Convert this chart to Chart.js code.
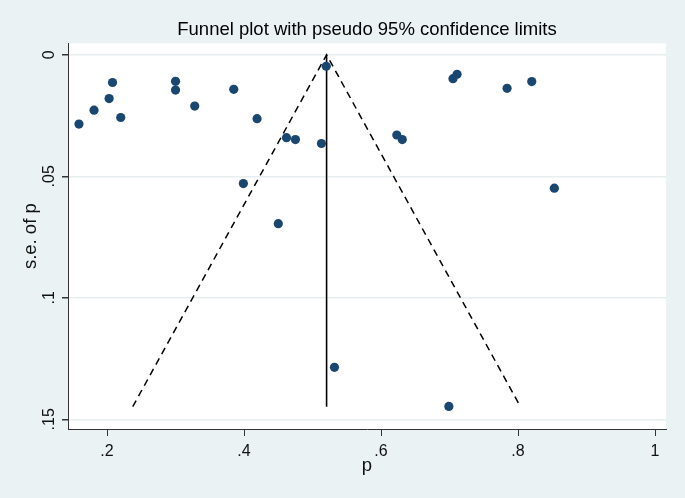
<!DOCTYPE html>
<html>
<head>
<meta charset="utf-8">
<script src="https://cdn.jsdelivr.net/npm/chart.js@4"></script>
<style>
  body { margin: 0; background: #eaf2f3; }
  canvas { display: block; }
</style>
</head>
<body>
<canvas id="funnelChart" width="685" height="498"></canvas>
<script>
// study estimates
const pValues = [0.159, 0.181, 0.203, 0.208, 0.220, 0.300, 0.300, 0.328, 0.385, 0.419,
                 0.462, 0.475, 0.513, 0.520, 0.399, 0.450, 0.705, 0.711, 0.784, 0.820,
                 0.623, 0.631, 0.853, 0.532, 0.699];
const seValues = [0.0285, 0.0228, 0.0180, 0.0114, 0.0258, 0.0109, 0.0145, 0.0211, 0.0142, 0.0263,
                  0.0341, 0.0349, 0.0365, 0.0047, 0.0530, 0.0695, 0.0098, 0.0080, 0.0138, 0.0110,
                  0.0330, 0.0349, 0.0549, 0.1286, 0.1447];

// pooled estimate and pseudo 95% limits
const pooledLineP = [0.5205, 0.5205];
const pooledLineSe = [0, 0.1448];
const limitP = [0.2375, 0.5205, 0.8035];
const limitSe = [0.1448, 0, 0.1448];

const xTickValues = [0.2, 0.4, 0.6, 0.8, 1];
const xTickLabels = ['.2', '.4', '.6', '.8', '1'];
const yTickValues = [0, 0.05, 0.1, 0.15];
const yTickLabels = ['0', '.05', '.1', '.15'];

const toPoints = (xs, ys) => xs.map((x, i) => ({ x: x, y: ys[i] }));

Chart.defaults.font.family = "'Liberation Sans', Arial, sans-serif";
Chart.defaults.color = '#111';

// white plot region + rotated y tick labels (Stata style)
const stataLook = {
  id: 'stataLook',
  beforeDraw(chart) {
    const a = chart.chartArea;
    const ctx = chart.ctx;
    ctx.save();
    ctx.fillStyle = '#ffffff';
    ctx.fillRect(a.left, a.top, a.right - a.left, a.bottom - a.top);
    ctx.restore();
  },
  afterDraw(chart) {
    const y = chart.scales.y;
    const ctx = chart.ctx;
    ctx.save();
    ctx.font = "16px 'Liberation Sans', Arial, sans-serif";
    ctx.fillStyle = '#111';
    ctx.textAlign = 'center';
    ctx.textBaseline = 'alphabetic';
    yTickValues.forEach((v, i) => {
      ctx.save();
      ctx.translate(53.5, y.getPixelForValue(v));
      ctx.rotate(-Math.PI / 2);
      ctx.fillText(yTickLabels[i], 0, 0);
      ctx.restore();
    });
    ctx.restore();
  }
};

const ctx = document.getElementById('funnelChart');
new Chart(ctx, {
  type: 'scatter',
  data: {
    datasets: [
      {
        label: 'studies',
        data: toPoints(pValues, seValues),
        backgroundColor: '#1a476f',
        borderColor: '#1a476f',
        borderWidth: 0,
        pointRadius: 4.6,
        order: 0
      },
      {
        label: 'pooled',
        type: 'line',
        data: toPoints(pooledLineP, pooledLineSe),
        borderColor: '#000',
        borderWidth: 1.6,
        pointRadius: 0,
        fill: false,
        order: 1
      },
      {
        label: 'limits',
        type: 'line',
        data: toPoints(limitP, limitSe),
        borderColor: '#000',
        borderWidth: 1.5,
        borderDash: [7, 5],
        pointRadius: 0,
        fill: false,
        order: 2
      }
    ]
  },
  options: {
    responsive: false,
    animation: false,
    layout: { padding: { left: 0, right: 19, top: 0, bottom: 0 } },
    plugins: {
      legend: { display: false },
      tooltip: { enabled: false },
      title: {
        display: true,
        fullSize: false,
        text: 'Funnel plot with pseudo 95% confidence limits',
        color: '#000',
        font: { size: 18.5, weight: 'normal' },
        padding: { top: 19.2, bottom: 2 }
      }
    },
    scales: {
      x: {
        type: 'linear',
        min: 0.143,
        max: 1.016,
        afterBuildTicks: (scale) => { scale.ticks = xTickValues.map(v => ({ value: v })); },
        afterFit: (scale) => { scale.height = 69; },
        ticks: {
          padding: 6,
          font: { size: 16 },
          color: '#111',
          maxRotation: 0,
          callback: (v) => xTickLabels[xTickValues.indexOf(v)]
        },
        grid: { drawOnChartArea: false, drawTicks: true, tickLength: 7, tickColor: '#333' },
        border: { display: true, color: '#333', width: 1 },
        title: { display: true, text: 'p', font: { size: 18.5 }, color: '#111', padding: { top: 21, bottom: 21 } }
      },
      y: {
        type: 'linear',
        reverse: true,
        min: -0.0047,
        max: 0.154,
        afterBuildTicks: (scale) => { scale.ticks = yTickValues.map(v => ({ value: v })); },
        afterFit: (scale) => { scale.width = 68; },
        ticks: { display: false },
        grid: { color: '#e6eef0', lineWidth: 1.5, drawTicks: true, tickLength: 6, tickColor: '#333' },
        border: { display: true, color: '#333', width: 1 },
        title: { display: true, text: 's.e. of p', font: { size: 18.5 }, color: '#111', padding: { top: 19.5, bottom: 19.5 } }
      }
    }
  },
  plugins: [stataLook]
});
</script>
</body>
</html>
